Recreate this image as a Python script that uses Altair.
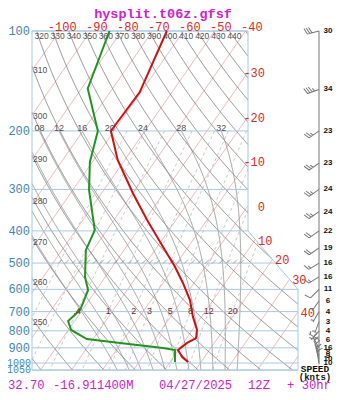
import math
import numpy as np
import pandas as pd
import altair as alt

# ---------------- values ----------------
TEMP_P = [100, 153, 200, 245, 308, 371, 457, 514, 574, 646, 727, 795, 841, 870, 914, 959, 993]
TEMP_C = [-65.4, -60.4, -61.0, -52.2, -39.9, -29.3, -16.8, -9.7, -3.6, 2.5, 7.3, 11.5, 13.0, 11.2, 9.9, 12.8, 15.8]
DEWP_P = [100, 149, 200, 248, 301, 398, 457, 551, 603, 692, 747, 795, 847, 870, 901, 914, 993]
DEWP_C = [-83.9, -78.0, -65.2, -60.8, -54.8, -43.9, -42.3, -36.5, -32.6, -30.7, -32.1, -29.1, -22.0, -10.4, 4.6, 8.9, 11.6]

WIND_P = [100, 150, 200, 250, 300, 350, 400, 450, 500, 550, 600, 650, 700, 750, 800, 850, 900, 925, 950, 975, 1000]
WIND_KT = [30, 34, 23, 23, 24, 24, 22, 19, 16, 16, 11, 6, 4, 3, 4, 6, 16, 8, 9, 10, 10]
WIND_DIR = [256, 250, 235, 235, 235, 235, 235, 235, 238, 238, 225, 215, 210, 200, 220, 300, 330, 335, 340, 345, 350]

PRESSURE_LEVELS = [100, 200, 300, 400, 500, 600, 700, 800, 900, 1000, 1050]
ISOTHERMS = list(range(-110, 60, 10))
ISOTHERM_LABELS = list(range(-100, 50, 10))
THETA = list(range(240, 460, 10))
THETA_LEFT_LABELS = [250, 260, 270, 280, 290, 300, 310]
THETA_TOP_LABELS = list(range(320, 450, 10))
THETA_W = [-8, -4, 0, 4, 8, 12, 16, 20, 24, 28, 32]
THETA_W_LABELS = {8: "08", 12: "12", 16: "16", 20: "20", 24: "24", 28: "28", 32: "32"}
MIXING = [0.1, 0.2, 0.4, 1, 2, 3, 5, 8, 12, 20]
MIXING_LABELS = {0.4: ".4", 1: "1", 2: "2", 3: "3", 5: "5", 8: "8", 12: "12", 20: "20"}
HATCH_P = 495

TITLE = "hysplit.t06z.gfsf"
FOOTER = ["32.70", "-16.911400M", "04/27/2025", "12Z", "+ 30hr"]

# ---------------- diagram geometry ----------------
W, H = 325, 384
PX0, PXK = 361.6, 3.1        # plot x = PX0 + PXK * skewed temperature
PY0, PYK = 23.0, 144.2       # plot y = PY0 + PYK * ln(p/100)
SKEW = 32.4                  # degC per ln(p) unit
LEFT, RIGHT_UP, RIGHT_LOW = 24.0, 240.0, 290.0
P_TOP, P_BOT, P_K1, P_K2 = 100.0, 1050.0, 400.0, 600.0
STATION_X, SPEED_X = 311, 320

XS = alt.Scale(domain=[-120, 0], range=[PX0 - 120 * PXK, PX0], nice=False, zero=False)
YS = alt.Scale(type="log", domain=[P_TOP, P_BOT],
               range=[PY0, PY0 + PYK * math.log(P_BOT / 100)], nice=False)


def skew(t, p):
    return t - SKEW * np.log(np.asarray(p) / 100.0)


def gfun(X, Y):
    y1 = PY0 + PYK * math.log(P_K1 / 100)
    y2 = PY0 + PYK * math.log(P_K2 / 100)
    ylo, yhi = PY0, PY0 + PYK * math.log(P_BOT / 100)
    right = np.where(Y <= y1, RIGHT_UP,
                     np.where(Y >= y2, RIGHT_LOW,
                              RIGHT_UP + (RIGHT_LOW - RIGHT_UP) * (Y - y1) / (y2 - y1)))
    return np.minimum.reduce([X - LEFT, right - X, Y - ylo, yhi - Y])


LNP = np.linspace(math.log(P_TOP), math.log(P_BOT), 700)


def clip_line(key, xs_arr, lnp_arr):
    X = PX0 + PXK * xs_arr
    Y = PY0 + PYK * (lnp_arr - math.log(100))
    g = gfun(X, Y)
    ins = g >= -1e-6
    segs, cur = [], []
    for j in range(len(xs_arr)):
        if ins[j]:
            if not cur and j > 0:
                t = g[j - 1] / (g[j - 1] - g[j])
                cur.append((xs_arr[j - 1] + t * (xs_arr[j] - xs_arr[j - 1]),
                            lnp_arr[j - 1] + t * (lnp_arr[j] - lnp_arr[j - 1])))
            cur.append((xs_arr[j], lnp_arr[j]))
        else:
            if cur:
                t = g[j - 1] / (g[j - 1] - g[j])
                cur.append((xs_arr[j - 1] + t * (xs_arr[j] - xs_arr[j - 1]),
                            lnp_arr[j - 1] + t * (lnp_arr[j] - lnp_arr[j - 1])))
                segs.append(cur)
                cur = []
    if cur:
        segs.append(cur)
    rows = []
    for k, s in enumerate(segs):
        for i, (a, b) in enumerate(s):
            rows.append({"key": key, "seg": f"{key}_{k}", "i": i, "xs": a, "p": math.exp(b)})
    return rows, segs


# ---- isotherms ----
iso_rows, iso_top, iso_right = [], [], []
for t in ISOTHERMS:
    r, segs = clip_line(f"T{t}", skew(t, np.exp(LNP)), LNP)
    iso_rows += r
    if t in ISOTHERM_LABELS and segs:
        a, b = min(segs[0], key=lambda q: q[1])
        d = {"xs": a, "p": math.exp(b), "lab": str(t)}
        (iso_top if abs(math.exp(b) - 100) < 0.5 else iso_right).append(d)

# ---- dry adiabats ----
dry_rows, th_left, th_top = [], [], []
for th in THETA:
    tc = th * (np.exp(LNP) / 1000.0) ** 0.2857 - 273.15
    r, segs = clip_line(f"D{th}", skew(tc, np.exp(LNP)), LNP)
    dry_rows += r
    if segs:
        a, b = min(segs[0], key=lambda q: q[1])
        if th in THETA_LEFT_LABELS:
            th_left.append({"xs": a, "p": math.exp(b), "lab": str(th)})
        if th in THETA_TOP_LABELS:
            th_top.append({"xs": a, "p": math.exp(b), "lab": str(th)})


# ---- moist (pseudo) adiabats ----
def dT(T, p):
    es = 6.112 * math.exp(17.67 * (T - 273.15) / (T - 29.65))
    rs = 0.622 * es / (p - es)
    return (287.04 * T + 2.501e6 * rs) / (1005.7 + 2.501e6 ** 2 * rs * 0.622 / (287.04 * T * T))


def rk4(T, l0, l1, n):
    h = (l1 - l0) / n
    l = l0
    for _ in range(n):
        k1 = dT(T, math.exp(l))
        k2 = dT(T + h / 2 * k1, math.exp(l + h / 2))
        k3 = dT(T + h / 2 * k2, math.exp(l + h / 2))
        k4 = dT(T + h * k3, math.exp(l + h))
        T += h / 6 * (k1 + 2 * k2 + 2 * k3 + k4)
        l += h
    return T


LNP_M = np.linspace(math.log(200), math.log(P_BOT), 300)
moist_rows, tw_lab = [], []
for tw in THETA_W:
    Tb = rk4(tw + 273.15, math.log(1000), math.log(P_BOT), 10)
    Ts = np.zeros(len(LNP_M))
    Ts[-1] = Tb
    for k in range(len(LNP_M) - 1, 0, -1):
        Ts[k - 1] = rk4(Ts[k], LNP_M[k], LNP_M[k - 1], 2)
    xs_arr = skew(Ts - 273.15, np.exp(LNP_M))
    r, segs = clip_line(f"M{tw}", xs_arr, LNP_M)
    moist_rows += r
    if tw in THETA_W_LABELS:
        tw_lab.append({"xs": xs_arr[0], "p": 200.0, "lab": THETA_W_LABELS[tw]})

# ---- mixing ratio lines ----
LNP_W = np.linspace(math.log(200), math.log(P_BOT), 300)
mix_rows, mix_lab = [], []
for w in MIXING:
    pp = np.exp(LNP_W)
    e = w * pp / (622.0 + w)
    le = np.log(e / 6.112)
    td = 243.5 * le / (17.67 - le)
    r, segs = clip_line(f"W{w}", skew(td, pp), LNP_W)
    mix_rows += r
    if w in MIXING_LABELS:
        e7 = w * 700 / (622.0 + w)
        l7 = math.log(e7 / 6.112)
        td7 = 243.5 * l7 / (17.67 - l7)
        mix_lab.append({"xs": float(skew(td7, 700)), "p": 700.0, "lab": MIXING_LABELS[w]})

# ---- isobars and border ----
def right_xs(p):
    Y = PY0 + PYK * math.log(p / 100)
    y1 = PY0 + PYK * math.log(P_K1 / 100)
    y2 = PY0 + PYK * math.log(P_K2 / 100)
    if Y <= y1:
        X = RIGHT_UP
    elif Y >= y2:
        X = RIGHT_LOW
    else:
        X = RIGHT_UP + (RIGHT_LOW - RIGHT_UP) * (Y - y1) / (y2 - y1)
    return (X - PX0) / PXK


xl = (LEFT - PX0) / PXK
isobar_df = pd.DataFrame({"p": PRESSURE_LEVELS,
                          "x1": [xl] * len(PRESSURE_LEVELS),
                          "x2": [right_xs(p) for p in PRESSURE_LEVELS],
                          "lab": [str(p) for p in PRESSURE_LEVELS]})
border_pts = [(xl, P_TOP), (right_xs(P_TOP), P_TOP), (right_xs(P_K1), P_K1), (right_xs(P_K2), P_K2),
              (right_xs(P_BOT), P_BOT), (xl, P_BOT), (xl, P_TOP)]
border_df = pd.DataFrame([{"i": i, "xs": a, "p": b} for i, (a, b) in enumerate(border_pts)])

hatch_x = np.arange(52, 238, 7.0)
hatch_df = pd.DataFrame({"xs": (hatch_x - PX0) / PXK, "p": HATCH_P})

temp_df = pd.DataFrame({"p": TEMP_P, "xs": skew(np.array(TEMP_C), TEMP_P), "i": range(len(TEMP_P))})
dew_df = pd.DataFrame({"p": DEWP_P, "xs": skew(np.array(DEWP_C), DEWP_P), "i": range(len(DEWP_P))})


# ---- wind barbs ----
def barb_path(spd):
    s = int(round(spd / 5.0)) * 5
    n10, n5 = s // 10, (s % 10) // 5
    parts = ["M0,0L-1,0"]
    pos = -1.0
    for _ in range(n10):
        parts.append(f"M{pos:.2f},0L{pos - 0.17:.2f},-0.5")
        pos += 0.2
    if n5:
        if n10 == 0:
            pos += 0.15
        parts.append(f"M{pos:.2f},0L{pos - 0.09:.2f},-0.27")
    return "".join(parts)


wind_df = pd.DataFrame({"p": WIND_P, "spd": WIND_KT,
                        "ang": [(d - 270) % 360 for d in WIND_DIR],
                        "shape": [barb_path(s) for s in WIND_KT],
                        "lab": [str(s) for s in WIND_KT]})


def X(f="xs"):
    return alt.X(f"{f}:Q", scale=XS, axis=None)


def Y(f="p"):
    return alt.Y(f"{f}:Q", scale=YS, axis=None)


def lines(rows, color, width=0.8, dash=None):
    kw = dict(color=color, strokeWidth=width, clip=False)
    if dash:
        kw["strokeDash"] = dash
    return alt.Chart(pd.DataFrame(rows)).mark_line(**kw).encode(
        x=X(), y=Y(), detail="seg:N", order="i:Q")


def texts(rows, **kw):
    return alt.Chart(pd.DataFrame(rows)).mark_text(**kw).encode(x=X(), y=Y(), text="lab:N")


MONO = "Liberation Mono"
SANS = "Liberation Sans"

layers = [
    lines(iso_rows, "#e49a9a", 0.8),
    lines(dry_rows, "#707070", 0.8),
    lines(moist_rows, "#8c8c8c", 0.8),
    lines(mix_rows, "#b4b4b4", 0.8, [3, 3]),
    alt.Chart(isobar_df).mark_rule(color="#a9c9de", strokeWidth=1).encode(x=X("x1"), x2="x2:Q", y=Y()),
    alt.Chart(border_df).mark_line(color="#a9c9de", strokeWidth=1).encode(x=X(), y=Y(), order="i:Q"),
    alt.Chart(hatch_df).mark_point(shape="M-1,1L1,-1", size=14, color="#666666", strokeWidth=0.8,
                                   filled=False).encode(x=X(), y=Y()),
    alt.Chart(temp_df).mark_line(color="#d01010", strokeWidth=2).encode(x=X(), y=Y(), order="i:Q"),
    alt.Chart(dew_df).mark_line(color="#1e961e", strokeWidth=2).encode(x=X(), y=Y(), order="i:Q"),
    # labels
    alt.Chart(isobar_df[isobar_df.p < 1000]).mark_text(align="right", baseline="middle", font=MONO,
                                                    fontSize=12, color="#3f86b8").encode(
        x=alt.value(22), y=Y(), text="lab:N"),
    alt.Chart(isobar_df[isobar_df.p >= 1000]).mark_text(align="right", baseline="middle", font=MONO,
                                                     fontSize=10, color="#3f86b8").encode(
        x=alt.value(23), y=Y(), text="lab:N"),
    texts(iso_top, align="right", baseline="middle", dx=17, dy=-4, font=MONO, fontSize=12, color="#e02828"),
    texts(iso_right, align="right", baseline="middle", dx=17, dy=1, font=MONO, fontSize=12, color="#e02828"),
    texts(th_left, align="left", baseline="middle", dx=1, dy=4, font=SANS, fontSize=8.5, color="#505050"),
    texts(th_top, align="center", baseline="middle", dx=5, dy=5, font=SANS, fontSize=8.5, color="#505050"),
    texts(tw_lab, align="center", baseline="middle", dy=-3, font=SANS, fontSize=9, color="#505050"),
    texts(mix_lab, align="center", baseline="middle", dy=-1, font=SANS, fontSize=9, color="#7a2a2a"),
    # wind column
    alt.Chart(pd.DataFrame({"p1": [100], "p2": [1010]})).mark_rule(color="#777777", strokeWidth=1).encode(
        x=alt.value(STATION_X), y=Y("p1"), y2="p2:Q"),
    alt.Chart(wind_df).mark_point(filled=False, size=576, color="#777777", strokeWidth=1, opacity=1).encode(
        x=alt.value(STATION_X), y=Y(), shape=alt.Shape("shape:N", scale=None),
        angle=alt.Angle("ang:Q", scale=None)),
    alt.Chart(wind_df).mark_text(align="center", baseline="middle", font=SANS, fontSize=8, fontWeight="bold",
                                 color="#111111").encode(x=alt.value(SPEED_X), y=Y(), text="lab:N"),
]

one = pd.DataFrame({"a": [0]})
layers += [
    alt.Chart(one).mark_text(text=TITLE, font=MONO, fontSize=13.5, fontWeight="bold", color="#d020d0",
                             align="center", baseline="alphabetic").encode(x=alt.value(155), y=alt.value(10)),
    alt.Chart(one).mark_text(text="SPEED", font=MONO, fontSize=9.5, fontWeight="bold", color="#111111",
                             align="center", baseline="middle").encode(x=alt.value(307), y=alt.value(361)),
    alt.Chart(one).mark_text(text="(knts)", font=MONO, fontSize=9, fontWeight="bold", color="#111111",
                             align="center", baseline="middle").encode(x=alt.value(307), y=alt.value(369)),
]
FOOT_X = [0, 45, 151, 240, 279]
for txt, fx in zip(FOOTER, FOOT_X):
    layers.append(alt.Chart(one).mark_text(text=txt, font=MONO, fontSize=12.2, color="#d020d0",
                                           align="left", baseline="alphabetic").encode(
        x=alt.value(fx), y=alt.value(381)))

chart = alt.layer(*layers).properties(
    width=W, height=H, padding=0, autosize=alt.AutoSizeParams(type="none"), background="white"
).configure_view(strokeWidth=0)

chart.save("out.html", embed_options={"renderer": "svg", "actions": False})
